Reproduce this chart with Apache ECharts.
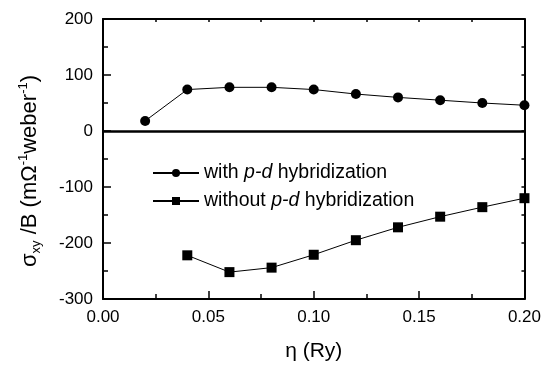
<!DOCTYPE html>
<html>
<head>
<meta charset="utf-8">
<script src="https://cdn.jsdelivr.net/npm/echarts@6/dist/echarts.min.js"></script>
<style>
  html, body { margin: 0; padding: 0; background: #fff; }
  #chart { width: 544px; height: 367px; }
</style>
</head>
<body>
<div id="chart"></div>
<script>
// η (Ry)
var etaWith = [0.02, 0.04, 0.06, 0.08, 0.10, 0.12, 0.14, 0.16, 0.18, 0.20];
var sigmaWith = [18, 74, 78, 78, 74, 66, 60, 55, 50, 46];
var etaWithout = [0.04, 0.06, 0.08, 0.10, 0.12, 0.14, 0.16, 0.18, 0.20];
var sigmaWithout = [-222, -252, -244, -221, -195, -172, -153, -136, -120];

var font = "Liberation Sans";

function pairs(xs, ys) {
  return xs.map(function (x, i) { return [x, ys[i]]; });
}

var chart = echarts.init(document.getElementById("chart"));

// bottom/left: long inward ticks, top/right: tiny ones
var tickStyle = { show: true, inside: true, length: 8, lineStyle: { color: "#000", width: 1.5 } };
var minorStyle = { show: true, splitNumber: 2, length: 5, lineStyle: { color: "#000", width: 1.5 } };
var smallTick = { show: true, inside: true, length: 3, lineStyle: { color: "#000", width: 1.5 } };
var smallMinor = { show: true, splitNumber: 2, length: 3, lineStyle: { color: "#000", width: 1.5 } };
var lineStyle = { show: true, onZero: false, lineStyle: { color: "#000", width: 2 } };

var option = {
  animation: false,
  backgroundColor: "#fff",
  textStyle: { fontFamily: font },
  grid: { left: 103, right: 17, top: 19, bottom: 65 },
  legend: {
    orient: "vertical",
    left: 147,
    top: 158,
    itemWidth: 46,
    itemHeight: 10,
    itemGap: 8,
    data: ["with", "without"],
    formatter: function (name) {
      return "{n|" + name + " }{i|p-d}{n| hybridization}";
    },
    textStyle: {
      color: "#000",
      rich: {
        n: { fontSize: 19.5, lineHeight: 20, fontFamily: font, color: "#000" },
        i: { fontSize: 19.5, lineHeight: 20, fontFamily: font, fontStyle: "italic", color: "#000" }
      }
    }
  },
  xAxis: [
    {
      type: "value",
      min: 0,
      max: 0.2,
      interval: 0.05,
      name: "η (Ry)",
      nameLocation: "middle",
      nameGap: 42,
      nameTextStyle: { fontSize: 21, color: "#000", fontFamily: font },
      axisLine: lineStyle,
      axisTick: tickStyle,
      minorTick: minorStyle,
      splitLine: { show: false },
      axisLabel: {
        color: "#000", fontSize: 17, margin: 10,
        formatter: function (v) { return v.toFixed(2); }
      }
    },
    {
      type: "value",
      position: "top",
      min: 0,
      max: 0.2,
      interval: 0.05,
      axisLine: lineStyle,
      axisTick: smallTick,
      minorTick: smallMinor,
      splitLine: { show: false },
      axisLabel: { show: false }
    }
  ],
  yAxis: [
    {
      type: "value",
      min: -300,
      max: 200,
      interval: 100,
      name: "{s|σ}{sub|xy}{s| /B (mΩ}{sup|-1}{s|weber}{sup|-1}{s|)}",
      nameLocation: "middle",
      nameGap: 60,
      nameRotate: 90,
      nameTextStyle: {
        color: "#000",
        padding: [0, 24, 0, 0],
        rich: {
          s: { fontSize: 22, fontFamily: font, color: "#000", verticalAlign: "middle", lineHeight: 26 },
          sub: { fontSize: 13, fontFamily: font, color: "#000", verticalAlign: "bottom", lineHeight: 26 },
          sup: { fontSize: 13, fontFamily: font, color: "#000", verticalAlign: "top", lineHeight: 26 }
        }
      },
      axisLine: lineStyle,
      axisTick: tickStyle,
      minorTick: minorStyle,
      splitLine: { show: false },
      axisLabel: { color: "#000", fontSize: 17, margin: 10 }
    },
    {
      type: "value",
      position: "right",
      min: -300,
      max: 200,
      interval: 100,
      axisLine: lineStyle,
      axisTick: smallTick,
      minorTick: smallMinor,
      splitLine: { show: false },
      axisLabel: { show: false }
    }
  ],
  series: [
    {
      name: "with",
      type: "line",
      data: pairs(etaWith, sigmaWith),
      symbol: "circle",
      symbolSize: 10,
      itemStyle: { color: "#000" },
      lineStyle: { color: "#000", width: 1 },
      markLine: {
        silent: true,
        symbol: "none",
        label: { show: false },
        lineStyle: { color: "#000", width: 2.5, type: "solid" },
        data: [{ yAxis: 0 }]
      }
    },
    {
      name: "without",
      type: "line",
      data: pairs(etaWithout, sigmaWithout),
      symbol: "rect",
      symbolSize: 10,
      itemStyle: { color: "#000" },
      lineStyle: { color: "#000", width: 1 }
    }
  ]
};

chart.setOption(option);
</script>
</body>
</html>
